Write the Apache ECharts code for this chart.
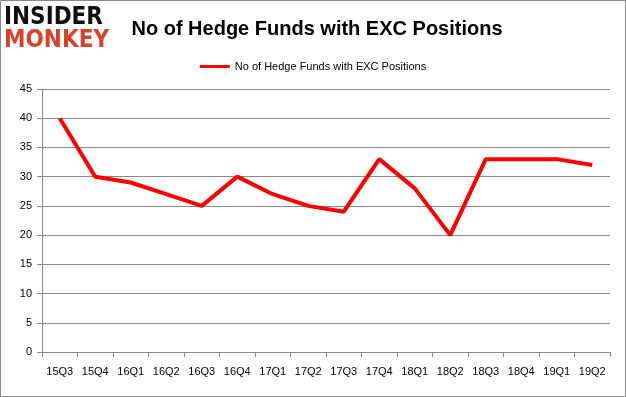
<!DOCTYPE html>
<html><head><meta charset="utf-8">
<script src="https://cdn.jsdelivr.net/npm/echarts@6/dist/echarts.min.js"></script>
<style>html,body{margin:0;padding:0;background:#fff}#c{width:626px;height:397px}</style>
</head><body><div id="c"></div>
<script>
const categories = ['15Q3','15Q4','16Q1','16Q2','16Q3','16Q4','17Q1','17Q2','17Q3','17Q4','18Q1','18Q2','18Q3','18Q4','19Q1','19Q2'];
const values = [40,30,29,27,25,30,27,25,24,33,28,20,33,33,33,32];
const seriesName = 'No of Hedge Funds with EXC Positions';
const titleText = 'No of Hedge Funds with EXC Positions';

const chart = echarts.init(document.getElementById('c'), null, {renderer:'canvas'});
chart.setOption({
  animation:false,
  backgroundColor:'#fff',
  title:{text:titleText,left:312,top:14,textAlign:'center',
    textStyle:{fontFamily:'Liberation Sans, Arial',fontSize:20,fontWeight:'bold',color:'#000'}},
  legend:{top:56,left:'center',itemWidth:30,itemHeight:3,icon:'rect',
    textStyle:{fontFamily:'Liberation Sans, Arial',fontSize:11,color:'#000'},
    data:[{name:seriesName}]},
  graphic:[
    {type:'rect',shape:{x:0.5,y:0.5,width:625,height:396},style:{fill:'none',stroke:'#888',lineWidth:1},silent:true,z:100},
    {type:'text',left:4,top:6,style:{text:'INSIDER',font:'bold 24px "DejaVu Sans Condensed", "DejaVu Sans", sans-serif',fill:'#111'}},
    {type:'text',left:4,top:29,style:{text:'MONKEY',font:'bold 24px "DejaVu Sans Condensed", "DejaVu Sans", sans-serif',fill:'#d9412b'}}
  ],
  grid:{left:42,right:16,top:89,bottom:45,containLabel:false},
  xAxis:{type:'category',data:categories,boundaryGap:true,
    axisLine:{lineStyle:{color:'#888'}},
    axisTick:{show:true,length:5,lineStyle:{color:'#888'}},
    axisLabel:{margin:14,fontFamily:'Liberation Sans, Arial',fontSize:11,color:'#000'}},
  yAxis:{type:'value',min:0,max:45,interval:5,
    axisLine:{show:true,lineStyle:{color:'#888'}},
    axisTick:{show:true,length:5,lineStyle:{color:'#888'}},
    splitLine:{lineStyle:{color:'#888'}},
    axisLabel:{margin:10,fontFamily:'Liberation Sans, Arial',fontSize:11,color:'#000'}},
  series:[{name:seriesName,type:'line',data:values,symbol:'none',
    lineStyle:{color:'#ff0000',width:4},itemStyle:{color:'#ff0000'}}]
});
</script></body></html>
